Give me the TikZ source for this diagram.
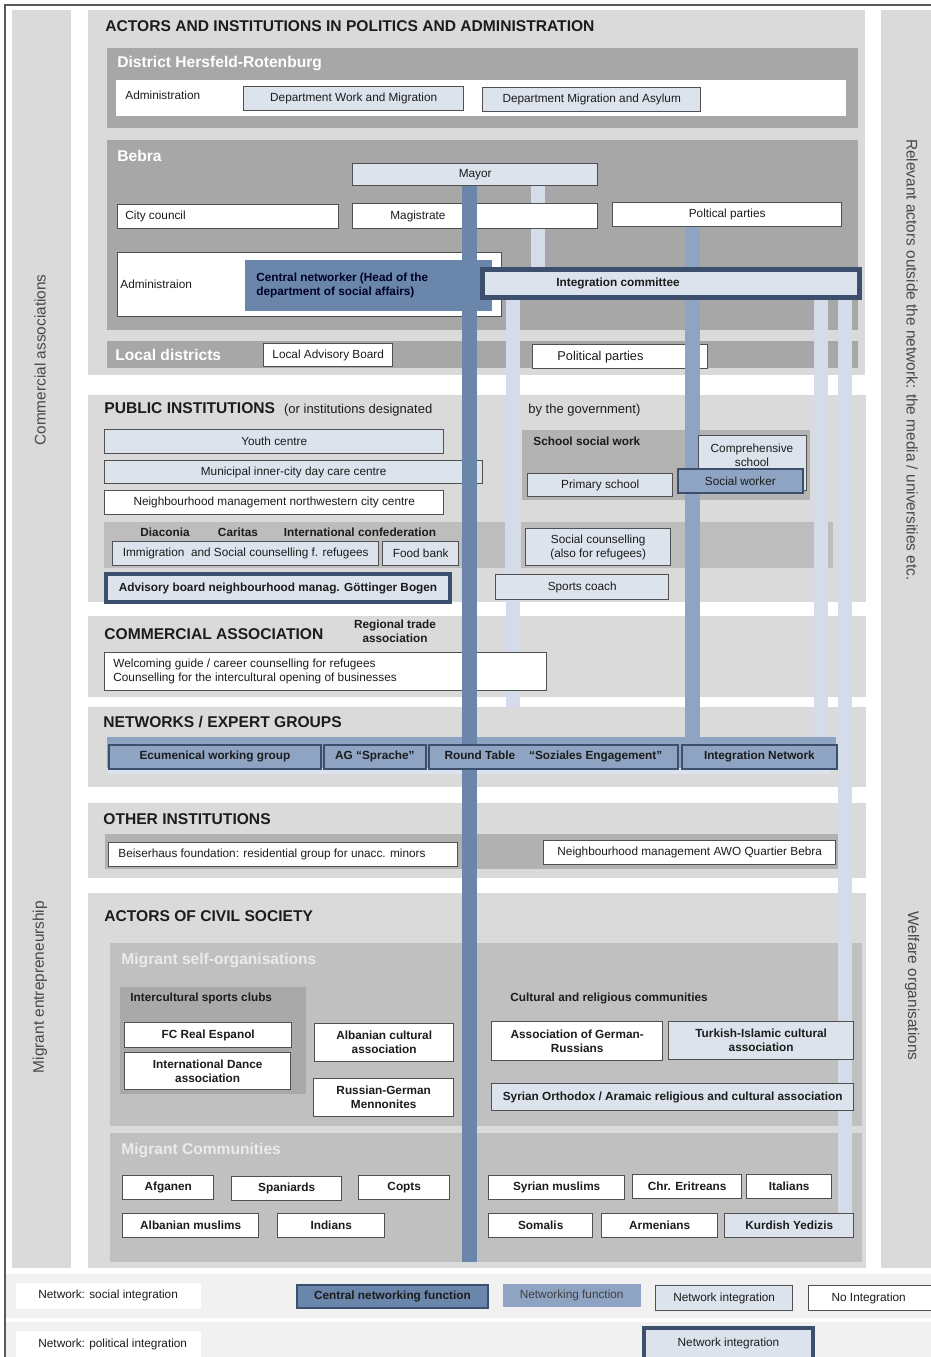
\documentclass[tikz,border=0pt]{standalone}
\usepackage{fontspec}
\setmainfont{Liberation Sans}
\usetikzlibrary{positioning}

\definecolor{panelgray}{HTML}{DADADA}
\definecolor{midgray}{HTML}{A7A7A7}
\definecolor{stripgray}{HTML}{BDBDBD}
\definecolor{sswgray}{HTML}{B3B3B3}
\definecolor{othergray}{HTML}{B1B1B1}
\definecolor{civgray}{HTML}{C0C0C0}
\definecolor{icsgray}{HTML}{A9A9A9}
\definecolor{legendbg}{HTML}{F1F1F1}
\definecolor{lblue}{HTML}{DCE3EC}
\definecolor{lbarc}{HTML}{D3DCE8}
\definecolor{mblue}{HTML}{8EA4C2}
\definecolor{cblue}{HTML}{6A86AA}
\definecolor{dkline}{HTML}{3C506D}
\definecolor{boxline}{HTML}{505050}
\definecolor{txt}{HTML}{1C1C1C}
\definecolor{sidetxt}{HTML}{484848}

\pgfdeclarelayer{background}
\pgfdeclarelayer{bars}
\pgfdeclarelayer{cbars}
\pgfdeclarelayer{foreground}
\pgfsetlayers{background,bars,main,cbars,foreground}

\begin{document}
\begin{tikzpicture}[
    x=0.5pt, y=-0.5pt,
    every node/.style={inner sep=0pt, text=txt, font=\fontsize{5.9}{7}\selectfont},
    box/.style={anchor=north west, draw=boxline, line width=0.7pt, fill=white, align=center, minimum height=12pt},
    lbox/.style={box, fill=lblue},
    bbox/.style={box, font=\fontsize{5.9}{7}\selectfont\bfseries},
    pbox/.style={box, fill=lblue, draw=dkline, line width=2pt},
    nwbox/.style={box, fill=mblue, draw=dkline, line width=0.9pt, font=\fontsize{5.9}{7}\selectfont\bfseries},
    lbl/.style={anchor=west},
    blbl/.style={font=\fontsize{5.9}{7}\selectfont\bfseries},
    ttl/.style={anchor=west, font=\fontsize{7.8}{9}\selectfont\bfseries},
    sub/.style={ttl, text=white},
    side/.style={font=\fontsize{7.7}{9}\selectfont, text=sidetxt},
    cbar/.style={draw=cblue, line width=7.5pt},
    nbar/.style={draw=mblue, line width=7.5pt},
    lbar/.style={draw=lbarc, line width=7pt}
]
    \useasboundingbox (0,0) rectangle (931,1357);

    % panels
    \begin{pgfonlayer}{background}
        \fill[white] (0,0) rectangle (931,1357);
        \fill[legendbg] (5,1274) rectangle (931,1318);
        \fill[legendbg] (5,1322) rectangle (931,1357);
        \draw[black!65, line width=1pt] (5,1360) -- (5,5) -- (935,5);
        \fill[panelgray] (12,10) rectangle (71,1268);
        \fill[panelgray] (881,10) rectangle (931,1268);
        \fill[panelgray] (88,10) rectangle (865,375);
        \fill[midgray] (107,48) rectangle (858,128);
        \fill[white] (116,80) rectangle (846,116);
        \fill[midgray] (107,140) rectangle (858,330);
        \fill[midgray] (107,341) rectangle (858,368);
        \fill[panelgray] (88,395) rectangle (866,602);
        \fill[stripgray] (104,522) rectangle (505,568);
        \fill[stripgray] (521,522) rectangle (833,568);
        \fill[sswgray] (522,430) rectangle (810,500);
        \fill[panelgray] (88,616) rectangle (866,697);
        \fill[panelgray] (88,707) rectangle (866,787);
        \fill[panelgray] (88,803) rectangle (866,878);
        \fill[othergray] (105,834) rectangle (852,869);
        \fill[panelgray] (88,893) rectangle (866,1268);
        \fill[civgray] (110,943) rectangle (862,1126);
        \fill[icsgray] (120,987) rectangle (306,1094);
        \fill[civgray] (110,1133) rectangle (862,1262);

        \node[box, minimum width=64.5pt, minimum height=11.5pt] (lab) at (263,343) {Local Advisory Board};
        \node[box, minimum width=87.5pt] (locparties) at (532,344) {};
        \node[lbl, right=12.5pt of locparties.west] (locpartieslbl) {\fontsize{6.4}{7}\selectfont Political parties};
    \end{pgfonlayer}

    % side columns
    \node[side, rotate=90] (commassoc) at (40,360) {Commercial associations};
    \node[side, rotate=90] (mentre) at (40,987) {Migrant entrepreneurship};
    \node[side, rotate=-90] (outside) at (912,360) {Relevant actors outside the network: the media / universities etc.};
    \node[side, rotate=-90] (welfare) at (912,986) {Welfare organisations};

    % politics and administration
    \node[ttl] (polttl) at (105,26) {ACTORS AND INSTITUTIONS IN POLITICS AND ADMINISTRATION};
    \node[sub] (distttl) at (117,63) {District Hersfeld-Rotenburg};
    \node[lbl] (distadm) at (125,95) {Administration};
    \node[lbox, minimum width=110pt] (dwm) at (243,86) {Department Work and Migration};
    \node[lbox, minimum width=109pt] (dma) at (482,87) {Department Migration and Asylum};

    \node[sub] (bebrattl) at (117,156) {Bebra};
    \node[lbox, minimum width=122.5pt, minimum height=11pt] (mayor) at (352,163) {Mayor};
    \node[box, minimum width=110.5pt] (council) at (117,204) {};
    \node[lbl, right=4pt of council.west] (councillbl) {City council};
    \node[box, minimum width=122.5pt, minimum height=12.5pt] (magistrate) at (352,203) {};
    \node[lbl, right=19pt of magistrate.west] (magistratelbl) {Magistrate};
    \node[box, minimum width=114.5pt] (polparties) at (612,202) {Poltical parties};
    \node[box, minimum width=192pt, minimum height=32pt] (admin) at (117,252) {};
    \node[lbl, right=1.5pt of admin.west] (adminlbl) {Administraion};
    \node[box, fill=cblue, draw=none, minimum width=123.5pt, minimum height=25.5pt] (central) at (244,259) {};
    \node[lbl, blbl, align=left, text=black!85!blue, right=6pt of central.west] (centrallbl)
        {Central networker (Head of the\\department of social affairs)};
    \node[pbox, line width=2.5pt, minimum width=188.5pt, minimum height=14pt] (intcom) at (480,267) {};
    \node[lbl, blbl, right=38pt of intcom.west] (intcomlbl) {Integration committee};
    \node[sub] (locttl) at (115,355) {Local districts};

    % public institutions
    \node[ttl] (pubttl) at (104,409) {PUBLIC INSTITUTIONS\hspace{4.5pt}{\mdseries\fontsize{6.5}{8}\selectfont(or institutions designated}};
    \node[lbl, font=\fontsize{6.5}{8}\selectfont] (pubttl2) at (528,410) {by the government)};
    \node[lbox, minimum width=169.5pt] (youth) at (104,429) {Youth centre};
    \node[lbox, minimum width=189pt, minimum height=11.5pt] (daycare) at (104,460) {Municipal inner-city day care centre};
    \node[box, minimum width=169.5pt] (nbmnw) at (104,490) {Neighbourhood management northwestern city centre};
    \node[blbl] (diaconia) at (165,532) {Diaconia};
    \node[blbl] (caritas) at (238,532) {Caritas};
    \node[blbl] (intconf) at (360,532) {International confederation};
    \node[lbox, minimum width=133pt] (immig) at (112,541) {Immigration\ \ and Social counselling f. refugees};
    \node[lbox, minimum width=38pt] (foodbank) at (382,541) {Food bank};
    \node[pbox, minimum width=172pt, minimum height=14pt, font=\fontsize{5.9}{7}\selectfont\bfseries] (advisory) at (104,572) {Advisory board neighbourhood manag. Göttinger Bogen};
    \node[lbox, minimum width=72.5pt, minimum height=18.5pt] (soccouns) at (525,528) {Social counselling\\(also for refugees)};
    \node[lbox, minimum width=86.5pt, minimum height=12.5pt] (sports) at (495,574) {Sports coach};
    \node[lbl, blbl] (sswlbl) at (533,441) {School social work};
    \node[lbox, minimum width=72.5pt, minimum height=11.5pt] (primary) at (527,473) {Primary school};
    \node[lbox, minimum width=54pt, minimum height=27.5pt] (compr) at (698,435) {};
    \node[align=center] (comprlbl) at (752,455) {Comprehensive\\school};
    \node[box, fill=mblue, draw=dkline, line width=0.9pt, minimum width=62.5pt] (socworker) at (677,468) {Social worker};

    % commercial association
    \node[ttl] (comttl) at (104,634) {COMMERCIAL ASSOCIATION};
    \node[blbl, align=center] (regtrade) at (395,631) {Regional trade\\association};
    \node[box, minimum width=221pt, minimum height=19pt] (combox) at (104,652) {};
    \node[lbl, align=left, right=4.5pt of combox.west] (comboxlbl)
        {Welcoming guide / career counselling for refugees\\Counselling for the intercultural opening of businesses};

    % networks / expert groups
    \node[ttl] (netttl) at (103,722) {NETWORKS / EXPERT GROUPS};
    \fill[lblue] (108,760) rectangle (830,774);
    \fill[mblue] (107,737) rectangle (836,768);

    % other institutions
    \node[ttl] (otherttl) at (103,819) {OTHER INSTITUTIONS};
    \node[box, minimum width=174.5pt] (beiser) at (108,842) {};
    \node[lbl, right=5pt of beiser.west] (beiserlbl) {Beiserhaus foundation: residential group for unacc. minors};
    \node[box, minimum width=146pt] (awo) at (543,840) {Neighbourhood management AWO Quartier Bebra};

    % actors of civil society
    \node[ttl] (civttl) at (104,916) {ACTORS OF CIVIL SOCIETY};
    \node[sub, text=white!92!black] (msottl) at (121,960) {Migrant self-organisations};
    \node[lbl, blbl] (icslbl) at (130,998) {Intercultural sports clubs};
    \node[bbox, minimum width=83.5pt, minimum height=12.5pt] (fcreal) at (124,1022) {FC Real Espanol};
    \node[bbox, minimum width=83pt, minimum height=18.5pt] (dance) at (124,1052) {International Dance\\association};
    \node[bbox, minimum width=69.5pt, minimum height=19pt] (albcult) at (314,1023) {Albanian cultural\\association};
    \node[bbox, minimum width=70pt, minimum height=19pt] (menno) at (313,1078) {Russian-German\\Mennonites};
    \node[lbl, blbl] (crclbl) at (510,998) {Cultural and religious communities};
    \node[bbox, minimum width=85.5pt, minimum height=19.5pt] (germruss) at (491,1021) {Association of German-\\Russians};
    \node[bbox, fill=lblue, minimum width=92.5pt, minimum height=19pt] (turkisl) at (668,1021) {Turkish-Islamic cultural\\association};
    \node[bbox, fill=lblue, minimum width=181pt, minimum height=13.5pt] (syrorth) at (491,1083) {Syrian Orthodox / Aramaic religious and cultural association};
    \node[sub, text=white!92!black] (mcttl) at (121,1150) {Migrant Communities};
    \node[bbox, minimum width=45.5pt] (afg) at (122,1175) {Afganen};
    \node[bbox, minimum width=55pt] (spa) at (231,1176) {Spaniards};
    \node[bbox, minimum width=45.5pt] (copts) at (358,1175) {Copts};
    \node[bbox, minimum width=68pt] (albmus) at (122,1213) {Albanian muslims};
    \node[bbox, minimum width=53.5pt] (indians) at (277,1213) {Indians};
    \node[bbox, minimum width=68pt] (syrmus) at (488,1175) {Syrian muslims};
    \node[bbox, minimum width=54.5pt] (eritr) at (632,1174) {Chr. Eritreans};
    \node[bbox, minimum width=42.5pt] (ital) at (746,1174) {Italians};
    \node[bbox, minimum width=52pt] (somal) at (488,1213) {Somalis};
    \node[bbox, minimum width=58pt] (armen) at (601,1213) {Armenians};
    \node[bbox, fill=lblue, minimum width=64.5pt] (kurd) at (724,1213) {Kurdish Yedizis};

    % legend
    \node[box, draw=none, minimum width=92.5pt, minimum height=13pt] (lgsoc) at (15,1282) {};
    \node[lbl, right=11.5pt of lgsoc.west] (lgsoclbl) {Network: social integration};
    \node[box, fill=cblue, draw=dkline, line width=0.9pt, minimum width=95.5pt, minimum height=11.5pt, font=\fontsize{5.9}{7}\selectfont\bfseries] (lgcentral) at (296,1284) {Central networking function};
    \node[box, fill=mblue, draw=none, minimum width=69pt, minimum height=11.5pt, text=black!75] (lgnetf) at (502,1283) {Networking function};
    \node[lbox, minimum width=68.5pt, minimum height=12.5pt] (lgnetint) at (655,1285) {Network integration};
    \node[box, minimum width=66pt, minimum height=12.5pt] (lgnoint) at (808,1285) {\hspace{-6pt}No Integration};
    \node[box, draw=none, minimum width=92.5pt, minimum height=13.5pt] (lgpol) at (15,1330) {};
    \node[lbl, right=11.5pt of lgpol.west] (lgpollbl) {Network: political integration};
    \node[pbox, minimum width=84.5pt, minimum height=15.5pt] (lgpolint) at (642,1326) {Network integration};

    % networking groups on top of the bars
    \begin{pgfonlayer}{foreground}
        \node[nwbox, minimum width=106pt] (ecumen) at (108,744) {Ecumenical working group};
        \node[nwbox, minimum width=51pt] (agsprache) at (323,744) {AG “Sprache”};
        \node[nwbox, minimum width=124.5pt] (roundtab) at (428,744) {Round Table\hspace{7pt}“Soziales Engagement”};
        \node[nwbox, minimum width=77.5pt] (intnet) at (681,744) {Integration Network};
    \end{pgfonlayer}

    % networking bars
    \coordinate (abot) at (469.5,1262);
    \coordinate (bx) at (692.5,0);
    \coordinate (c1) at (537.5,0);
    \coordinate (c2end) at (512.5,707);
    \coordinate (c3) at (821,0);
    \coordinate (c4) at (845,0);
    \begin{pgfonlayer}{bars}
        \draw[lbar] (mayor.south -| c1) -- (intcom.north -| c1);
        \draw[lbar] (intcom.south -| c2end) -- (c2end);
        \draw[lbar] (intcom.south -| c3) -- (intnet.north -| c3);
        \draw[lbar] (intcom.south -| c4) -- (kurd.north -| c4);
        \draw[nbar] (polparties.south -| bx) -- (intnet.north -| bx);
    \end{pgfonlayer}
    \begin{pgfonlayer}{cbars}
        \draw[cbar] (mayor.south -| abot) -- (abot);
    \end{pgfonlayer}
\end{tikzpicture}
\end{document}
